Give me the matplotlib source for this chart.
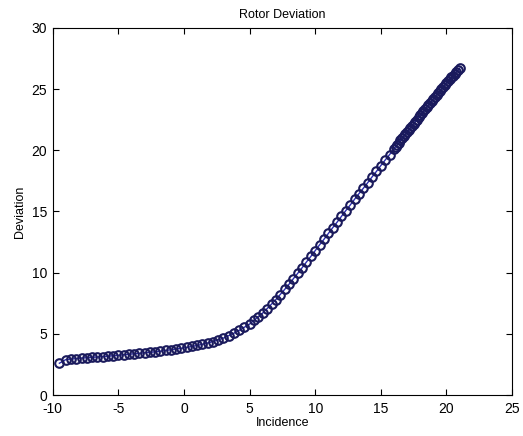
import matplotlib
matplotlib.use("Agg")
import matplotlib.pyplot as plt

# incidence / deviation
incidence = [-9.5,
             -9.0, -8.6, -8.2, -7.8, -7.4, -7.0, -6.6, -6.2, -5.8, -5.4,
             -5.0, -4.6, -4.2, -3.8, -3.4, -3.0, -2.6, -2.2, -1.8, -1.4,
             -1.0, -0.6, -0.2, 0.2, 0.6, 1.0, 1.4, 1.8, 2.2, 2.6,
             3.0, 3.4, 3.8, 4.2, 4.6,
             5.0, 5.33, 5.67, 6.0, 6.33, 6.67, 7.0, 7.33, 7.67, 8.0,
             8.33, 8.67, 9.0, 9.33, 9.67, 10.0, 10.33, 10.67, 11.0, 11.33,
             11.67, 12.0, 12.33, 12.67, 13.0, 13.33, 13.67, 14.0, 14.33, 14.67,
             15.0, 15.33, 15.67,
             16.0, 16.125, 16.25, 16.375, 16.5, 16.625, 16.75, 16.875,
             17.0, 17.125, 17.25, 17.375, 17.5, 17.625, 17.75, 17.875,
             18.0, 18.125, 18.25, 18.375, 18.5, 18.625, 18.75, 18.875,
             19.0, 19.125, 19.25, 19.375, 19.5, 19.625, 19.75, 19.875,
             20.0, 20.125, 20.25, 20.375, 20.5, 20.625, 20.75, 20.875, 21.0]

deviation = [2.60,
             2.90, 2.94, 2.98, 3.02, 3.05, 3.08, 3.11, 3.14, 3.17, 3.21,
             3.25, 3.29, 3.33, 3.37, 3.41, 3.45, 3.49, 3.53, 3.58, 3.64,
             3.70, 3.76, 3.82, 3.89, 3.97, 4.05, 4.15, 4.25, 4.37, 4.51,
             4.65, 4.85, 5.05, 5.28, 5.54,
             5.80, 6.10, 6.40, 6.70, 7.06, 7.43, 7.80, 8.21, 8.63, 9.05,
             9.50, 9.95, 10.40, 10.87, 11.33, 11.80, 12.27, 12.73, 13.20, 13.67,
             14.13, 14.60, 15.07, 15.53, 16.00, 16.45, 16.90, 17.35, 17.82, 18.28,
             18.75, 19.20, 19.65,
             20.10, 20.28, 20.45, 20.63, 20.80, 20.98, 21.15, 21.33,
             21.50, 21.67, 21.84, 22.01, 22.18, 22.34, 22.51, 22.68,
             22.85, 23.02, 23.19, 23.36, 23.53, 23.69, 23.86, 24.03,
             24.20, 24.36, 24.53, 24.69, 24.85, 25.01, 25.18, 25.34,
             25.50, 25.65, 25.80, 25.95, 26.10, 26.25, 26.40, 26.55, 26.70]

xticks = [-10, -5, 0, 5, 10, 15, 20, 25]
yticks = [0, 5, 10, 15, 20, 25, 30]

plt.rcParams['font.family'] = ['Liberation Sans', 'DejaVu Sans']
plt.rcParams['axes.unicode_minus'] = False

fig = plt.figure(figsize=(5.23, 4.36), dpi=100)
ax = fig.add_axes([0.101, 0.094, 0.878, 0.842])

ax.plot(incidence, deviation, '-o', color='#2c2cb0', linewidth=1,
        markersize=6.2, markerfacecolor='none', markeredgecolor='#1a1a5c',
        markeredgewidth=1.5)

ax.set_xlim(-10, 25)
ax.set_ylim(0, 30)
ax.set_xticks(xticks)
ax.set_yticks(yticks)
ax.tick_params(direction='in', top=True, right=True, length=4,
               labelsize=10, width=0.8)
ax.tick_params(axis='x', pad=5)
ax.tick_params(axis='y', pad=4)
for s in ax.spines.values():
    s.set_linewidth(0.8)

ax.set_title('Rotor Deviation', fontsize=9, pad=7)
ax.set_xlabel('Incidence', fontsize=9, labelpad=1)
ax.set_ylabel('Deviation', fontsize=9, labelpad=4)

fig.savefig('out.png', dpi=100)
